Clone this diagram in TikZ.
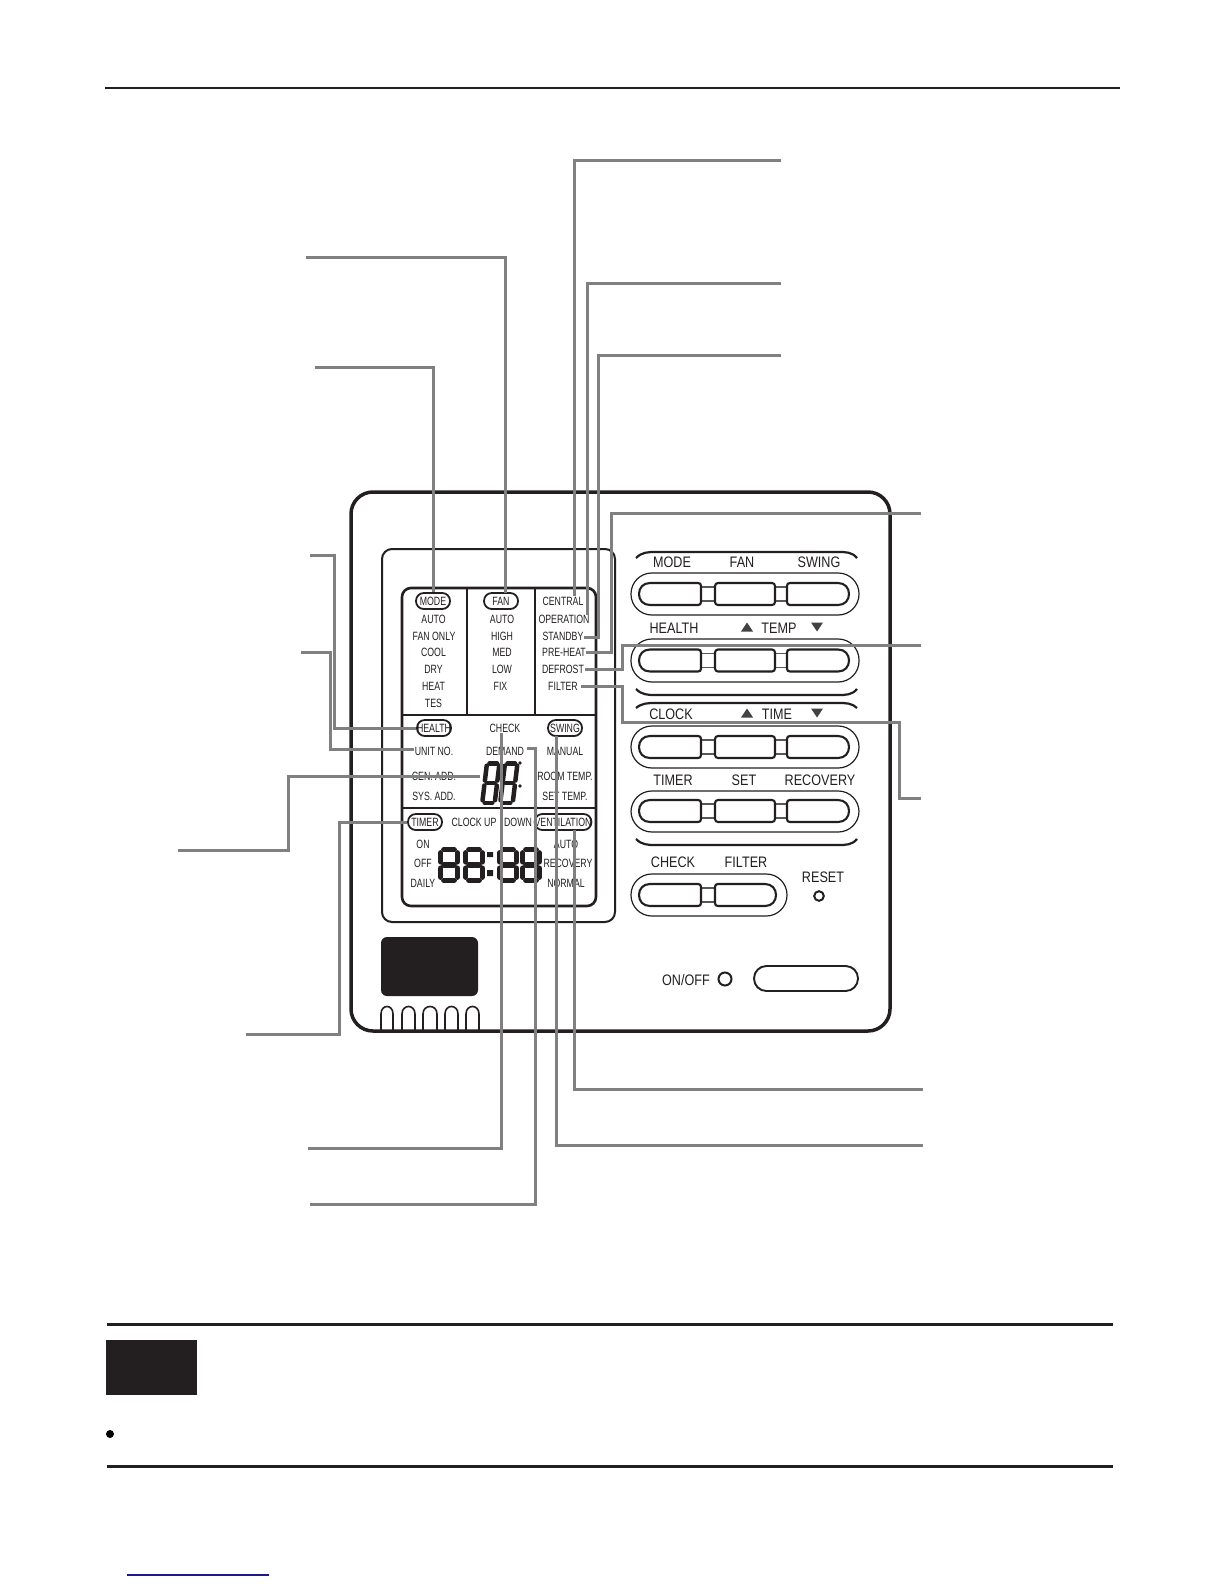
\documentclass[tikz,border=0pt]{standalone}
\usepackage{fontspec}
\setmainfont[FakeStretch=0.83]{Liberation Sans}
\newfontfamily\lcdfont[FakeStretch=0.73]{Liberation Sans}
\definecolor{ink}{HTML}{231F20}
\definecolor{leadgray}{HTML}{808080}
\definecolor{linkblue}{HTML}{1A1A8C}
\newcommand\sevenseg[7]{%
\begin{scope}[shift={(#1,#2)},xslant=#6,line width=#5*0.5pt,line cap=round,draw=ink]
\pgfmathsetmacro\ssL{#5/2}\pgfmathsetmacro\ssR{#3-#5/2}\pgfmathsetmacro\ssB{#4-#5/2}
\pgfmathsetmacro\ssM{#4/2}\pgfmathsetmacro\ssG{#5*#7}
\draw (\ssL+\ssG,\ssL) -- (\ssR-\ssG,\ssL);
\draw (\ssL+\ssG,\ssM) -- (\ssR-\ssG,\ssM);
\draw (\ssL+\ssG,\ssB) -- (\ssR-\ssG,\ssB);
\draw (\ssL,\ssL+\ssG) -- (\ssL,\ssM-\ssG);
\draw (\ssR,\ssL+\ssG) -- (\ssR,\ssM-\ssG);
\draw (\ssL,\ssM+\ssG) -- (\ssL,\ssB-\ssG);
\draw (\ssR,\ssM+\ssG) -- (\ssR,\ssB-\ssG);
\end{scope}}
\newcommand\brk[2]{% ends at y #1, flat part at y #2
\draw[thinline,line width=1.1pt] (636,#1) .. controls (642,#2) and (648,#2) .. (656,#2) -- (838,#2) .. controls (846,#2) and (852,#2) .. (857,#1);}
\tikzset{
  lcdtxt/.style={inner sep=0pt,text=ink,font=\lcdfont\fontsize{6}{7}\selectfont,text height=4.4pt,text depth=0pt},
  paneltxt/.style={inner sep=0pt,text=ink,font=\fontsize{7.6}{8}\selectfont,text height=5.4pt,text depth=0pt},
  pill/.style={lcdtxt,draw=ink,line width=0.9pt,rounded corners=3.9pt,minimum height=8pt},
  lead/.style={draw=leadgray,line width=1.5pt},
  thinline/.style={draw=ink,line width=0.6pt},
  btn/.style={draw=ink,line width=1.05pt},
  tri/.style={fill=ink!85,draw=none},
  pics/threebtn/.style={code={
    \draw[thinline,draw=ink!75] (701,-7) rectangle (715,7) (775,-7) rectangle (787,7);
    \draw[btn] (650,-11) -- (698,-11) .. controls (700,-11) and (701,-10) .. (701,-8) -- (701,8) .. controls (701,10) and (700,11) .. (698,11) -- (650,11) .. controls (643,11) and (639,6) .. (639,0) .. controls (639,-6) and (643,-11) .. (650,-11) -- cycle;
    \draw[btn,rounded corners=1.5pt] (715,-11) rectangle (775,11);
    \draw[btn] (838,-11) -- (790,-11) .. controls (788,-11) and (787,-10) .. (787,-8) -- (787,8) .. controls (787,10) and (788,11) .. (790,11) -- (838,11) .. controls (845,11) and (849,6) .. (849,0) .. controls (849,-6) and (845,-11) .. (838,-11) -- cycle;
  }}
}
\begin{document}
\begin{tikzpicture}[x=0.5pt,y=-0.5pt]
\useasboundingbox (0,0) rectangle (1224,1584);
\fill[white] (0,0) rectangle (1224,1584);

% page furniture
\draw[draw=ink,line width=0.55pt] (105,88) -- (1120,88);
\draw[draw=ink,line width=1.5pt] (107,1324) -- (1113,1324);
\draw[draw=ink,line width=1.5pt] (107,1466) -- (1113,1466);
\fill[ink] (106,1340) rectangle (197,1395);
\fill[black] (110,1434) circle[radius=4];
\draw[draw=linkblue,line width=0.6pt] (127,1575) -- (269,1575);

% controller body
\draw[draw=ink,line width=1.75pt,rounded corners=11pt] (351,492) rectangle (890,1031);
\draw[draw=ink,line width=1pt,rounded corners=5pt] (382,549) rectangle (615,922);
\draw[draw=ink,line width=1.3pt,rounded corners=4.5pt] (402,588) rectangle (596,906);
\draw[draw=ink,line width=0.9pt] (467,588) -- (467,715) (535,588) -- (535,715);
\draw[draw=ink,line width=0.9pt] (402,715) -- (596,715) (402,808) -- (596,808);
\fill[ink,rounded corners=3pt] (381,937) rectangle (478,996);
\foreach \a/\b in {381/393,402/415,423/437,445/458,466/479}{
  \draw[draw=ink,line width=0.8pt] (\a,1031) -- (\a,1014) .. controls (\a,1004) and (\b,1004) .. (\b,1014) -- (\b,1031);
}

% LCD labels, column 1
\node[pill,minimum width=17pt] (mode) at (433,601) {MODE};
\node[lcdtxt] (mauto) at (433.5,619) {AUTO};
\node[lcdtxt] (fanonly) at (434,636) {FAN ONLY};
\node[lcdtxt] (cool) at (433.5,652) {COOL};
\node[lcdtxt] (dry) at (433.5,669) {DRY};
\node[lcdtxt] (heat) at (433.5,686) {HEAT};
\node[lcdtxt] (tes) at (433.5,703) {TES};
% column 2
\node[pill,minimum width=17pt] (fan) at (501,601) {FAN};
\node[lcdtxt] (fauto) at (502,619) {AUTO};
\node[lcdtxt] (high) at (502,636) {HIGH};
\node[lcdtxt] (med) at (502,652) {MED};
\node[lcdtxt] (low) at (502,669) {LOW};
\node[lcdtxt] (fix) at (500.5,686) {FIX};
% column 3
\node[lcdtxt] (central) at (563,601) {CENTRAL};
\node[lcdtxt] (operation) at (564,619) {OPERATION};
\node[lcdtxt] (standby) at (563,636) {STANDBY};
\node[lcdtxt] (preheat) at (564,652) {PRE-HEAT};
\node[lcdtxt] (defrost) at (563,669) {DEFROST};
\node[lcdtxt] (filter) at (563,686) {FILTER};
% middle band
\node[pill,minimum width=17pt] (health) at (434,728) {HEALTH};
\node[lcdtxt] (check) at (505,728) {CHECK};
\node[pill,minimum width=17pt] (swing) at (565,728) {SWING};
\node[lcdtxt] (unitno) at (434,751) {UNIT NO.};
\node[lcdtxt] (demand) at (505,751) {DEMAND};
\node[lcdtxt] (manual) at (565,751) {MANUAL};
\node[lcdtxt] (cenadd) at (434,776) {CEN. ADD.};
\node[lcdtxt] (sysadd) at (434,796) {SYS. ADD.};
\node[lcdtxt] (roomtemp) at (565,776) {ROOM TEMP.};
\node[lcdtxt] (settemp) at (565,796) {SET TEMP.};
% bottom band
\node[pill,minimum width=17pt] (timer) at (425,822) {TIMER};
\node[lcdtxt] (clockup) at (474,822) {CLOCK UP};
\node[lcdtxt] (down) at (518,822) {DOWN};
\node[pill,minimum width=28pt] (vent) at (563,822) {VENTILATION};
\node[lcdtxt] (on) at (423,844) {ON};
\node[lcdtxt] (off) at (423,863) {OFF};
\node[lcdtxt] (daily) at (423,883) {DAILY};
\node[lcdtxt] (vauto) at (566,844) {AUTO};
\node[lcdtxt] (recov) at (568,863) {RECOVERY};
\node[lcdtxt] (normal) at (566,883) {NORMAL};

% seven-segment digits
\sevenseg{485}{761}{17}{44}{4.5}{0.12}{0.55}
\sevenseg{503}{761}{17}{44}{4.5}{0.12}{0.55}
\fill[ink] (520,763) circle[radius=1.8] (520,786) circle[radius=1.8];
\sevenseg{438}{847}{22}{36}{5.4}{0}{0.58}
\sevenseg{463}{847}{22}{36}{5.4}{0}{0.58}
\sevenseg{497}{847}{22}{36}{5.4}{0}{0.58}
\sevenseg{520}{847}{22}{36}{5.4}{0}{0.58}
\fill[ink] (487,852) rectangle (493,857) (487,870) rectangle (493,876);

% key panel
\brk{558}{552}
\draw[thinline,rounded corners=10.4pt] (631,573) rectangle (859,615);
\pic at (0,594) {threebtn};
\draw[thinline,rounded corners=10.4pt] (631,639) rectangle (859,682);
\pic at (0,660.5) {threebtn};
\brk{689}{695}
\brk{708}{703}
\draw[thinline,rounded corners=10.4pt] (631,726) rectangle (859,768);
\pic at (0,747) {threebtn};
\draw[thinline,rounded corners=10.4pt] (631,791) rectangle (859,832);
\pic at (0,811) {threebtn};
\brk{839}{845}
\draw[thinline,rounded corners=10.4pt] (631,874) rectangle (787,916);
\draw[thinline,draw=ink!75] (701,888) rectangle (715,902);
\draw[btn] (650,884) -- (698,884) .. controls (700,884) and (701,885) .. (701,887) -- (701,903) .. controls (701,905) and (700,906) .. (698,906) -- (650,906) .. controls (643,906) and (639,901) .. (639,895) .. controls (639,889) and (643,884) .. (650,884) -- cycle;
\draw[btn] (765,884) -- (718,884) .. controls (716,884) and (715,885) .. (715,887) -- (715,903) .. controls (715,905) and (716,906) .. (718,906) -- (765,906) .. controls (772,906) and (776,901) .. (776,895) .. controls (776,889) and (772,884) .. (765,884) -- cycle;

\node[paneltxt] (kmode) at (672,562) {MODE};
\node[paneltxt] (kfan) at (742,562) {FAN};
\node[paneltxt] (kswing) at (819,562) {SWING};
\node[paneltxt] (khealth) at (674,628) {HEALTH};
\node[paneltxt] (ktemp) at (779,628) {TEMP};
\node[paneltxt] (kclock) at (671,714) {CLOCK};
\node[paneltxt] (ktime) at (777,714) {TIME};
\node[paneltxt] (ktimer) at (673,780) {TIMER};
\node[paneltxt] (kset) at (744,780) {SET};
\node[paneltxt] (krecov) at (820,780) {RECOVERY};
\node[paneltxt] (kcheck) at (673,862) {CHECK};
\node[paneltxt] (kfilter) at (746,862) {FILTER};
\node[paneltxt] (kreset) at (823,877) {RESET};
\node[paneltxt] (konoff) at (686,980) {ON/OFF};
\foreach \xc/\yc in {747/627,747/713}{\fill[tri] (\xc-6,\yc+4.5) -- (\xc+6,\yc+4.5) -- (\xc,\yc-4.5) -- cycle;}
\foreach \xc/\yc in {817/627,817/713}{\fill[tri] (\xc-6,\yc-4.5) -- (\xc+6,\yc-4.5) -- (\xc,\yc+4.5) -- cycle;}
\draw[draw=ink,line width=1pt] (819,896) circle[radius=4.8];
\draw[draw=ink,line width=1pt] (725,979) circle[radius=6.5];
\draw[draw=ink,line width=0.95pt,rounded corners=6.2pt] (754,966) rectangle (858,991);

% free ends of the leader lines
\coordinate (eFan) at (306,257);
\coordinate (eMode) at (315,367);
\coordinate (eHealth) at (310,555);
\coordinate (eUnit) at (301,652);
\coordinate (eCen) at (178,850);
\coordinate (eTimer) at (246,1034);
\coordinate (eCheck) at (308,1148);
\coordinate (eDemand) at (310,1204);
\coordinate (eCentral) at (781,160);
\coordinate (eOper) at (781,283);
\coordinate (eStandby) at (781,355);
\coordinate (ePre) at (921,513);
\coordinate (eDefrost) at (921,645);
\coordinate (eFilter) at (921,798);
\coordinate (eVent) at (923,1089);
\coordinate (eSwing) at (923,1145);
% attachment points beside the labels
\coordinate (aCentral) at (574,596);
\coordinate (aOper) at (587,615);
\coordinate (aStandby) at (584,637);
\coordinate (aPre) at (586,652);
\coordinate (aDefrost) at (585,669);
\coordinate (aFilter) at (581,686);
\coordinate (aCen) at (480,776);
\coordinate (aCheck) at (501,733);
\coordinate (aDemand) at (527,748);
\coordinate (aUnit) at (414,749);
\coordinate (aSwing) at (556,736);
\coordinate (aVent) at (574,830);

\draw[lead] (eFan) -| (505,593);
\draw[lead] (eMode) -| (mode.north);
\draw[lead] (eHealth) -- (334,555) |- (health.west);
\draw[lead] (eUnit) -- (330,652) |- (aUnit);
\draw[lead] (eCen) -- (288,850) |- (aCen);
\draw[lead] (eTimer) -- (339,1034) |- (timer.west);
\draw[lead] (eCheck) -| (aCheck);
\draw[lead] (eDemand) -- (535,1204) |- (aDemand);
\draw[lead] (eCentral) -| (aCentral);
\draw[lead] (eOper) -| (aOper);
\draw[lead] (eStandby) -- (598,355) |- (aStandby);
\draw[lead] (ePre) -- (611,513) |- (aPre);
\draw[lead] (aDefrost) -- (622,669) |- (eDefrost);
\draw[lead] (aFilter) -- (622,686) |- (899,722) |- (eFilter);
\draw[lead] (eVent) -| (aVent);
\draw[lead] (eSwing) -| (aSwing);
\end{tikzpicture}
\end{document}
